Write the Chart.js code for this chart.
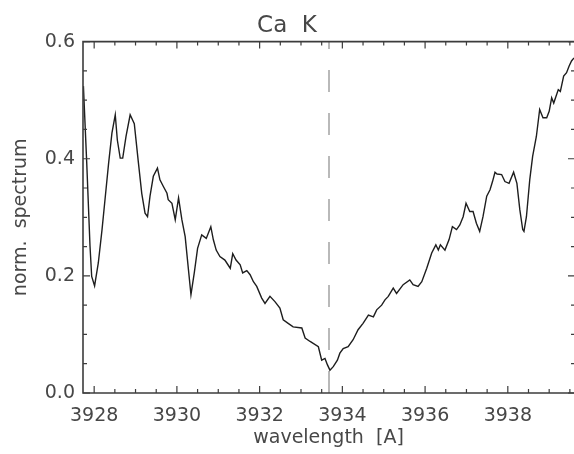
<!DOCTYPE html>
<html>
<head>
<meta charset="utf-8">
<script src="https://cdn.jsdelivr.net/npm/chart.js@4/dist/chart.umd.min.js"></script>
<style>
  html, body { margin: 0; padding: 0; background: #fff; overflow: hidden; }
  canvas { display: block; }
</style>
</head>
<body>
<canvas id="espectro_cak" width="574" height="454"></canvas>
<script>
// === Datos del espectro ===
const longitudOnda = [
  3927.74, 3927.82, 3927.90, 3927.94, 3928.01, 3928.10, 3928.19, 3928.27, 3928.35, 3928.43,
  3928.51, 3928.56, 3928.63, 3928.69, 3928.77, 3928.87, 3928.97, 3929.07, 3929.15, 3929.23,
  3929.29, 3929.35, 3929.43, 3929.53, 3929.59, 3929.67, 3929.76, 3929.79, 3929.88, 3929.96,
  3930.04, 3930.12, 3930.20, 3930.28, 3930.34, 3930.42, 3930.50, 3930.60, 3930.71, 3930.82,
  3930.88, 3930.95, 3931.04, 3931.16, 3931.29, 3931.35, 3931.43, 3931.53, 3931.59, 3931.69,
  3931.77, 3931.85, 3931.93, 3932.05, 3932.13, 3932.25, 3932.37, 3932.49, 3932.57, 3932.69,
  3932.81, 3933.02, 3933.10, 3933.22, 3933.42, 3933.50, 3933.58, 3933.64, 3933.70, 3933.78,
  3933.88, 3933.94, 3934.02, 3934.14, 3934.26, 3934.38, 3934.50, 3934.63, 3934.75, 3934.83,
  3934.95, 3935.03, 3935.11, 3935.23, 3935.31, 3935.47, 3935.63, 3935.71, 3935.83, 3935.92,
  3936.04, 3936.16, 3936.26, 3936.32, 3936.37, 3936.48, 3936.58, 3936.66, 3936.76, 3936.84,
  3936.92, 3936.99, 3937.08, 3937.16, 3937.24, 3937.32, 3937.40, 3937.49, 3937.57, 3937.63,
  3937.69, 3937.74, 3937.85, 3937.93, 3938.03, 3938.14, 3938.22, 3938.29, 3938.36, 3938.39,
  3938.45, 3938.53, 3938.60, 3938.69, 3938.77, 3938.85, 3938.94, 3939.00, 3939.06, 3939.11,
  3939.22, 3939.27, 3939.35, 3939.42, 3939.48, 3939.54, 3939.60
];
const espectroNorm = [
  0.524, 0.393, 0.250, 0.199, 0.183, 0.222, 0.279, 0.336, 0.393, 0.444,
  0.475, 0.432, 0.401, 0.401, 0.438, 0.475, 0.460, 0.393, 0.341, 0.307,
  0.301, 0.336, 0.370, 0.384, 0.364, 0.353, 0.341, 0.330, 0.324, 0.296,
  0.333, 0.296, 0.267, 0.210, 0.168, 0.205, 0.247, 0.270, 0.264, 0.284,
  0.262, 0.244, 0.233, 0.227, 0.213, 0.238, 0.227, 0.219, 0.205, 0.209,
  0.202, 0.190, 0.182, 0.162, 0.153, 0.165, 0.156, 0.145, 0.125, 0.119,
  0.113, 0.111, 0.094, 0.088, 0.079, 0.056, 0.059, 0.048, 0.039, 0.045,
  0.056, 0.068, 0.076, 0.079, 0.091, 0.108, 0.119, 0.133, 0.130, 0.142,
  0.150, 0.159, 0.165, 0.179, 0.170, 0.185, 0.193, 0.185, 0.182, 0.190,
  0.213, 0.239, 0.253, 0.244, 0.253, 0.244, 0.262, 0.284, 0.279, 0.287,
  0.301, 0.324, 0.310, 0.310, 0.290, 0.276, 0.301, 0.336, 0.347, 0.361,
  0.377, 0.374, 0.373, 0.361, 0.358, 0.377, 0.358, 0.313, 0.279, 0.276,
  0.301, 0.364, 0.404, 0.438, 0.484, 0.470, 0.470, 0.481, 0.504, 0.495,
  0.518, 0.515, 0.541, 0.547, 0.558, 0.567, 0.572
];
const ticksX = [3928, 3930, 3932, 3934, 3936, 3938];
const ticksY = [0.0, 0.2, 0.4, 0.6];
const lineaCaK = 3933.68;

const FUENTE = 'DejaVu Sans';
const COLOR_TEXTO = '#474747';
const COLOR_EJE = '#3c3c3c';

// === Plugin: marco estilo IDL con ticks hacia dentro + linea discontinua ===
const marcoIDL = {
  id: 'marcoIDL',
  beforeDatasetsDraw(chart) {
    const {ctx, chartArea: a, scales: {x}} = chart;
    const px = Math.round(x.getPixelForValue(lineaCaK));
    ctx.save();
    ctx.strokeStyle = '#b9b9b9';
    ctx.lineWidth = 2;
    ctx.setLineDash([22, 21]);
    ctx.beginPath();
    ctx.moveTo(px, a.bottom);
    ctx.lineTo(px, a.top);
    ctx.stroke();
    ctx.restore();
  },
  afterDatasetsDraw(chart) {
    const {ctx, chartArea: a, scales: {x, y}, width} = chart;
    ctx.save();
    ctx.strokeStyle = COLOR_EJE;
    ctx.lineWidth = 1.6;
    // marco: izquierda, arriba y abajo (el borde derecho queda fuera del cuadro)
    ctx.beginPath();
    ctx.moveTo(width, a.top); ctx.lineTo(a.left, a.top);
    ctx.lineTo(a.left, a.bottom); ctx.lineTo(width, a.bottom);
    ctx.stroke();
    ctx.lineWidth = 1.2;
    ctx.beginPath();
    // ticks del eje x (mayores cada 2 A, menores cada 0.5 A)
    for (let v = 3927.5; v <= x.max; v += 0.5) {
      if (v < x.min) continue;
      const px = x.getPixelForValue(v);
      const largo = ticksX.includes(v) ? 7 : 4;
      ctx.moveTo(px, a.bottom); ctx.lineTo(px, a.bottom - largo);
      ctx.moveTo(px, a.top); ctx.lineTo(px, a.top + largo);
    }
    // ticks del eje y (mayores cada 0.2, menores cada 0.05)
    for (let i = 0; i <= 12; i++) {
      const py = y.getPixelForValue(i * 0.05);
      const largo = i % 4 === 0 ? 7 : 4;
      ctx.moveTo(a.left, py); ctx.lineTo(a.left + largo, py);
      ctx.moveTo(width + 1, py); ctx.lineTo(width + 1 - largo, py);
    }
    ctx.stroke();
    ctx.restore();
  }
};

// === Grafico del espectro Ca K ===
new Chart(document.getElementById('espectro_cak'), {
  type: 'line',
  data: {
    datasets: [{
      data: longitudOnda.map((l, i) => ({x: l, y: espectroNorm[i]})),
      borderColor: '#1e1e1e',
      borderWidth: 1.4,
      pointRadius: 0,
      tension: 0,
      fill: false
    }]
  },
  options: {
    responsive: false,
    animation: false,
    devicePixelRatio: 1,
    layout: { padding: 0 },
    plugins: {
      legend: { display: false },
      tooltip: { enabled: false },
      title: {
        display: true,
        text: 'Ca  K',
        color: COLOR_TEXTO,
        font: { family: FUENTE, size: 23, weight: 'normal' },
        padding: { top: 12, bottom: 2 }
      }
    },
    scales: {
      x: {
        type: 'linear',
        min: 3927.73,
        max: 3939.6,
        grid: { display: false, drawTicks: false },
        border: { display: false },
        afterBuildTicks: s => { s.ticks = ticksX.map(v => ({value: v})); },
        afterFit: s => { s.height = 61; },
        ticks: {
          color: COLOR_TEXTO,
          font: { family: FUENTE, size: 19 },
          padding: 12,
          maxRotation: 0,
          autoSkip: false,
          callback: v => String(v)
        },
        title: {
          display: true,
          text: 'wavelength  [A]',
          color: COLOR_TEXTO,
          font: { family: FUENTE, size: 19 },
          padding: { top: 0, bottom: 5 }
        }
      },
      y: {
        min: 0,
        max: 0.6,
        grid: { display: false, drawTicks: false },
        border: { display: false },
        afterBuildTicks: s => { s.ticks = ticksY.map(v => ({value: v})); },
        afterFit: s => { s.width = 83; },
        ticks: {
          color: COLOR_TEXTO,
          font: { family: FUENTE, size: 19 },
          padding: 8,
          callback: v => Number(v).toFixed(1)
        },
        title: {
          display: true,
          text: 'norm.  spectrum',
          color: COLOR_TEXTO,
          font: { family: FUENTE, size: 19 },
          padding: { top: 10, bottom: 0 }
        }
      }
    }
  },
  plugins: [marcoIDL]
});
</script>
</body>
</html>
